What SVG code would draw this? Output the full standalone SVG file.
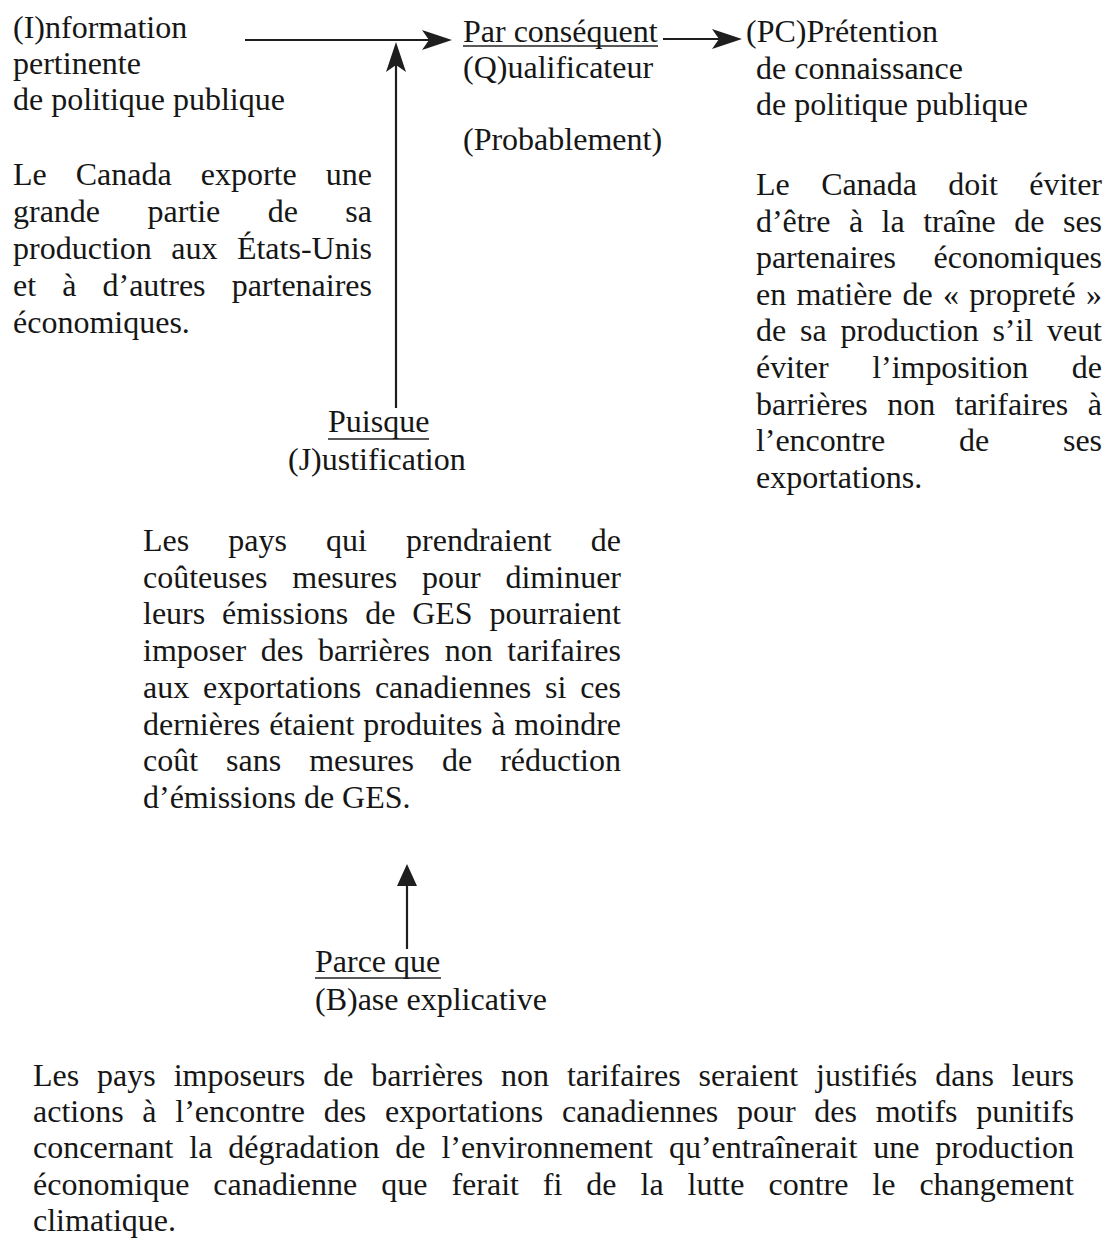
<svg xmlns="http://www.w3.org/2000/svg" width="1108" height="1247" viewBox="0 0 1108 1247">
  <style>
    .t { font-family: "Liberation Serif", "Times New Roman", serif; font-size: 32px; fill: #161616; font-kerning: none; }
    .ul { stroke: #222; stroke-width: 1.6; fill: none; }
    .wire { stroke: #1e1e1e; stroke-width: 2.2; fill: none; }
  </style>
  <defs>
    <!-- notched arrowhead for the top arrows -->
    <marker id="stealth" markerUnits="userSpaceOnUse" viewBox="-2 -12 34 24" refX="22" refY="0" markerWidth="34" markerHeight="24" orient="auto">
      <path d="M30,0 L0,-10 L7,0 L0,10 Z" fill="#1e1e1e"/>
    </marker>
    <!-- plain triangular arrowhead -->
    <marker id="tri" markerUnits="userSpaceOnUse" viewBox="-2 -12 26 24" refX="2" refY="0" markerWidth="26" markerHeight="24" orient="auto">
      <path d="M22,0 L0,-10 L0,10 Z" fill="#1e1e1e"/>
    </marker>
  </defs>
  <rect width="1108" height="1247" fill="#ffffff"/>

  <!-- connectors -->
  <g id="connectors">
    <line class="wire" x1="245" y1="40" x2="444" y2="40" marker-end="url(#stealth)"/>
    <line class="wire" x1="396" y1="408" x2="396" y2="50" marker-end="url(#stealth)"/>
    <line class="wire" x1="663" y1="39" x2="734" y2="39" marker-end="url(#stealth)"/>
    <line class="wire" x1="407" y1="949" x2="407" y2="884" marker-end="url(#tri)"/>
  </g>

  <!-- (I) information -->
  <g id="node-information">
    <text class="t" x="13" y="38">(I)nformation</text>
    <text class="t" x="13" y="74">pertinente</text>
    <text class="t" x="13" y="110">de politique publique</text>
    <text class="t" x="13" y="185" word-spacing="21" textLength="359" lengthAdjust="spacing">Le Canada exporte une</text>
    <text class="t" x="13" y="222" word-spacing="39.4" textLength="359" lengthAdjust="spacing">grande partie de sa</text>
    <text class="t" x="13" y="259" word-spacing="11.5" textLength="359" lengthAdjust="spacing">production aux États-Unis</text>
    <text class="t" x="13" y="296" word-spacing="18.1" textLength="359" lengthAdjust="spacing">et à d’autres partenaires</text>
    <text class="t" x="13" y="333">économiques.</text>
  </g>

  <!-- (Q) qualificateur -->
  <g id="node-qualificateur">
    <text class="t" x="463" y="42">Par conséquent</text>
    <line class="ul" x1="463" y1="46" x2="658" y2="46"/>
    <text class="t" x="463" y="78">(Q)ualificateur</text>
    <text class="t" x="463" y="150">(Probablement)</text>
  </g>

  <!-- (PC) prétention -->
  <g id="node-pretention">
    <text class="t" x="746" y="42">(PC)Prétention</text>
    <text class="t" x="756" y="79">de connaissance</text>
    <text class="t" x="756" y="115">de politique publique</text>
    <text class="t" x="756" y="195" word-spacing="23.5" textLength="346" lengthAdjust="spacing">Le Canada doit éviter</text>
    <text class="t" x="756" y="231.6" word-spacing="10.6" textLength="346" lengthAdjust="spacing">d’être à la traîne de ses</text>
    <text class="t" x="756" y="268.2" word-spacing="29.8" textLength="346" lengthAdjust="spacing">partenaires économiques</text>
    <text class="t" x="756" y="304.8" word-spacing="2.4" textLength="346" lengthAdjust="spacing">en matière de « propreté »</text>
    <text class="t" x="756" y="341.4" word-spacing="5.9" textLength="346" lengthAdjust="spacing">de sa production s’il veut</text>
    <text class="t" x="756" y="378" word-spacing="35.75" textLength="346" lengthAdjust="spacing">éviter l’imposition de</text>
    <text class="t" x="756" y="414.6" word-spacing="11.7" textLength="346" lengthAdjust="spacing">barrières non tarifaires à</text>
    <text class="t" x="756" y="451.2" word-spacing="66" textLength="346" lengthAdjust="spacing">l’encontre de ses</text>
    <text class="t" x="756" y="487.8">exportations.</text>
  </g>

  <!-- (J) justification -->
  <g id="node-justification">
    <text class="t" x="328" y="432">Puisque</text>
    <line class="ul" x1="328" y1="439" x2="429" y2="439"/>
    <text class="t" x="288" y="470">(J)ustification</text>
    <text class="t" x="143" y="551" word-spacing="31.1" textLength="478" lengthAdjust="spacing">Les pays qui prendraient de</text>
    <text class="t" x="143" y="587.7" word-spacing="16.8" textLength="478" lengthAdjust="spacing">coûteuses mesures pour diminuer</text>
    <text class="t" x="143" y="624.4" word-spacing="8.85" textLength="478" lengthAdjust="spacing">leurs émissions de GES pourraient</text>
    <text class="t" x="143" y="661.1" word-spacing="6.65" textLength="478" lengthAdjust="spacing">imposer des barrières non tarifaires</text>
    <text class="t" x="143" y="697.8" word-spacing="5.75" textLength="478" lengthAdjust="spacing">aux exportations canadiennes si ces</text>
    <text class="t" x="143" y="734.5" word-spacing="0.85" textLength="478" lengthAdjust="spacing">dernières étaient produites à moindre</text>
    <text class="t" x="143" y="771.2" word-spacing="20" textLength="478" lengthAdjust="spacing">coût sans mesures de réduction</text>
    <text class="t" x="143" y="808">d’émissions de GES.</text>
  </g>

  <!-- (B) base explicative -->
  <g id="node-base">
    <text class="t" x="315" y="972">Parce que</text>
    <line class="ul" x1="315" y1="978" x2="441" y2="978"/>
    <text class="t" x="315" y="1010">(B)ase explicative</text>
    <text class="t" x="33" y="1086" word-spacing="9.9" textLength="1041" lengthAdjust="spacing">Les pays imposeurs de barrières non tarifaires seraient justifiés dans leurs</text>
    <text class="t" x="33" y="1122.2" word-spacing="10.7" textLength="1041" lengthAdjust="spacing">actions à l’encontre des exportations canadiennes pour des motifs punitifs</text>
    <text class="t" x="33" y="1158.4" word-spacing="7.9" textLength="1041" lengthAdjust="spacing">concernant la dégradation de l’environnement qu’entraînerait une production</text>
    <text class="t" x="33" y="1194.6" word-spacing="15.95" textLength="1041" lengthAdjust="spacing">économique canadienne que ferait fi de la lutte contre le changement</text>
    <text class="t" x="33" y="1230.8">climatique.</text>
  </g>
</svg>
